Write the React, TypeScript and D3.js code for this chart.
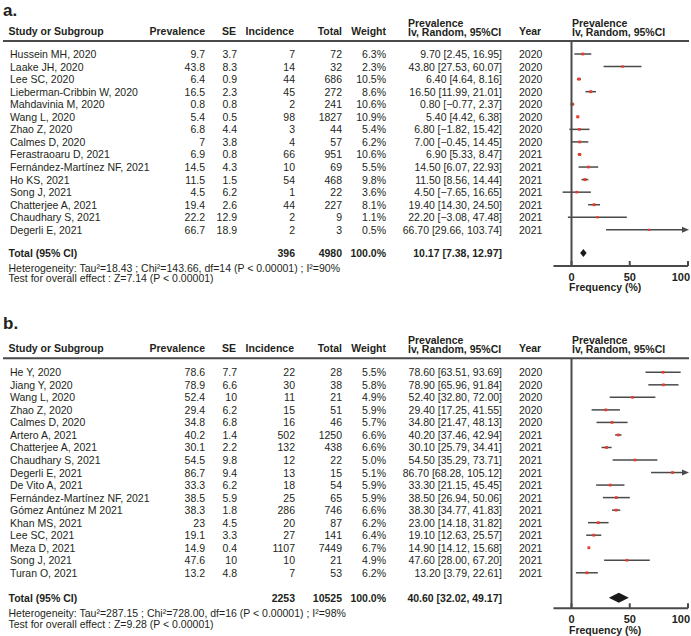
import React from "react";
import * as d3 from "d3";

// ---------- Panel a data ----------
const studiesA = [
  "Hussein MH, 2020", "Laake JH, 2020", "Lee SC, 2020", "Lieberman-Cribbin W, 2020",
  "Mahdavinia M, 2020", "Wang L, 2020", "Zhao Z, 2020", "Calmes D, 2020",
  "Ferastraoaru D, 2021", "Fernández-Martínez NF, 2021", "Ho KS, 2021", "Song J, 2021",
  "Chatterjee A, 2021", "Chaudhary S, 2021", "Degerli E, 2021",
];
const prevA = [9.7, 43.8, 6.4, 16.5, 0.8, 5.4, 6.8, 7, 6.9, 14.5, 11.5, 4.5, 19.4, 22.2, 66.7];
const seA = [3.7, 8.3, 0.9, 2.3, 0.8, 0.5, 4.4, 3.8, 0.8, 4.3, 1.5, 6.2, 2.6, 12.9, 18.9];
const incA = [7, 14, 44, 45, 2, 98, 3, 4, 66, 10, 54, 1, 44, 2, 2];
const totA = [72, 32, 686, 272, 241, 1827, 44, 57, 951, 69, 468, 22, 227, 9, 3];
const weightA = [6.3, 2.3, 10.5, 8.6, 10.6, 10.9, 5.4, 6.2, 10.6, 5.5, 9.8, 3.6, 8.1, 1.1, 0.5];
const loA = [2.45, 27.53, 4.64, 11.99, -0.77, 4.42, -1.82, -0.45, 5.33, 6.07, 8.56, -7.65, 14.3, -3.08, 29.66];
const hiA = [16.95, 60.07, 8.16, 21.01, 2.37, 6.38, 15.42, 14.45, 8.47, 22.93, 14.44, 16.65, 24.5, 47.48, 103.74];
const yearA = [2020, 2020, 2020, 2020, 2020, 2020, 2020, 2020, 2021, 2021, 2021, 2021, 2021, 2021, 2021];
const totalA = { inc: 396, tot: 4980, est: 10.17, lo: 7.38, hi: 12.97 };
const hetA = "Heterogeneity: Tau²=18.43 ; Chi²=143.66, df=14 (P < 0.00001) ; I²=90%";
const testA = "Test for overall effect : Z=7.14 (P < 0.00001)";

// ---------- Panel b data ----------
const studiesB = [
  "He Y, 2020", "Jiang Y, 2020", "Wang L, 2020", "Zhao Z, 2020", "Calmes D, 2020",
  "Artero A, 2021", "Chatterjee A, 2021", "Chaudhary S, 2021", "Degerli E, 2021",
  "De Vito A, 2021", "Fernández-Martínez NF, 2021", "Gómez Antúnez M 2021", "Khan MS, 2021",
  "Lee SC, 2021", "Meza D, 2021", "Song J, 2021", "Turan O, 2021",
];
const prevB = [78.6, 78.9, 52.4, 29.4, 34.8, 40.2, 30.1, 54.5, 86.7, 33.3, 38.5, 38.3, 23, 19.1, 14.9, 47.6, 13.2];
const seB = [7.7, 6.6, 10, 6.2, 6.8, 1.4, 2.2, 9.8, 9.4, 6.2, 5.9, 1.8, 4.5, 3.3, 0.4, 10, 4.8];
const incB = [22, 30, 11, 15, 16, 502, 132, 12, 13, 18, 25, 286, 20, 27, 1107, 10, 7];
const totB = [28, 38, 21, 51, 46, 1250, 438, 22, 15, 54, 65, 746, 87, 141, 7449, 21, 53];
const weightB = [5.5, 5.8, 4.9, 5.9, 5.7, 6.6, 6.6, 5.0, 5.1, 5.9, 5.9, 6.6, 6.2, 6.4, 6.7, 4.9, 6.2];
const loB = [63.51, 65.96, 32.8, 17.25, 21.47, 37.46, 25.79, 35.29, 68.28, 21.15, 26.94, 34.77, 14.18, 12.63, 14.12, 28.0, 3.79];
const hiB = [93.69, 91.84, 72.0, 41.55, 48.13, 42.94, 34.41, 73.71, 105.12, 45.45, 50.06, 41.83, 31.82, 25.57, 15.68, 67.2, 22.61];
const yearB = [2020, 2020, 2020, 2020, 2020, 2021, 2021, 2021, 2021, 2021, 2021, 2021, 2021, 2021, 2021, 2021, 2021];
const totalB = { inc: 2253, tot: 10525, est: 40.6, lo: 32.02, hi: 49.17 };
const hetB = "Heterogeneity: Tau²=287.15 ; Chi²=728.00, df=16 (P < 0.00001) ; I²=98%";
const testB = "Test for overall effect : Z=9.28 (P < 0.00001)";

const xTicks = [0, 50, 100];

const FONT = "'Liberation Sans', Arial, Helvetica, sans-serif";
const TXT = "#231f20";
const LINE = "#4a4a4a";
const RED = "#ec3b2a";

type PanelProps = {
  label: string;
  labelY: number;
  headerLineY: number;
  rowY0: number;
  pitch: number;
  totalY: number;
  hetY: number;
  testY: number;
  axisY: number;
  tickLabelY: number;
  freqY: number;
  diamondH: number;
  studies: string[];
  prev: number[];
  se: number[];
  inc: number[];
  tot: number[];
  weight: number[];
  lo: number[];
  hi: number[];
  year: number[];
  total: { inc: number; tot: number; est: number; lo: number; hi: number };
  het: string;
  test: string;
};

const x = d3.scaleLinear().domain([0, 100]).range([571.5, 688]);
const fmt2 = d3.format(".2f");

function ciText(e: number, l: number, h: number) {
  return `${fmt2(e)} [${fmt2(l)}, ${fmt2(h)}]`;
}

function Panel(p: PanelProps) {
  const fs = 10.5;
  const H = p.headerLineY;
  const cols = {
    study: 10,
    prev: 205,
    se: 237,
    inc: 295,
    tot: 342,
    weight: 386,
    ci: 502,
    year: 519,
    plot: 572,
  };
  const rowY = (i: number) => p.rowY0 + i * p.pitch;
  const tx = (props: any, s: string | number, bold = false) => (
    <text
      {...props}
      fontFamily={FONT}
      fontSize={fs}
      fontWeight={bold ? "bold" : "normal"}
      fill={TXT}
      dominantBaseline="central"
    >
      {s}
    </text>
  );
  const xMax = x(100);
  return (
    <g>
      <text x={3} y={p.labelY} fontFamily={FONT} fontSize={17} fontWeight="bold" fill={TXT} dominantBaseline="central">
        {p.label}
      </text>
      {/* headers */}
      {tx({ x: 8.5, y: H - 10 }, "Study or Subgroup", true)}
      {tx({ x: cols.prev, y: H - 10, textAnchor: "end" }, "Prevalence", true)}
      {tx({ x: cols.se - 1, y: H - 10, textAnchor: "end" }, "SE", true)}
      {tx({ x: cols.inc - 1, y: H - 10, textAnchor: "end" }, "Incidence", true)}
      {tx({ x: cols.tot, y: H - 10, textAnchor: "end" }, "Total", true)}
      {tx({ x: cols.weight, y: H - 10, textAnchor: "end" }, "Weight", true)}
      {tx({ x: 408, y: H - 18.5 }, "Prevalence", true)}
      {tx({ x: 408, y: H - 9.3 }, "Iv, Random, 95%CI", true)}
      {tx({ x: cols.year, y: H - 10 }, "Year", true)}
      {tx({ x: cols.plot, y: H - 18.5 }, "Prevalence", true)}
      {tx({ x: cols.plot, y: H - 9.3 }, "Iv, Random, 95%CI", true)}
      <line x1={3} x2={689} y1={H} y2={H} stroke={LINE} strokeWidth={2} />

      {/* rows */}
      {p.studies.map((s, i) => {
        const y = rowY(i);
        const l = p.lo[i];
        const h = p.hi[i];
        const clipped = h > 100;
        const x2 = clipped ? xMax - 5 : x(h);
        const sz = 2 + Math.sqrt(p.weight[i]) * 0.3;
        return (
          <g key={s + i}>
            {tx({ x: cols.study, y }, s)}
            {tx({ x: cols.prev, y, textAnchor: "end" }, p.prev[i])}
            {tx({ x: cols.se, y, textAnchor: "end" }, p.se[i])}
            {tx({ x: cols.inc, y, textAnchor: "end" }, p.inc[i])}
            {tx({ x: cols.tot, y, textAnchor: "end" }, p.tot[i])}
            {tx({ x: cols.weight, y, textAnchor: "end" }, `${p.weight[i].toFixed(1)}%`)}
            {tx({ x: cols.ci, y, textAnchor: "end" }, ciText(p.prev[i], l, h))}
            {tx({ x: cols.year, y }, p.year[i])}
            <line x1={x(l)} x2={x2} y1={y} y2={y} stroke={LINE} strokeWidth={1.5} />
            {clipped && (
              <path
                d={`M${xMax + 1},${y} L${xMax - 6},${y - 3} L${xMax - 6},${y + 3} Z`}
                fill={LINE}
              />
            )}
            <rect x={x(p.prev[i]) - sz / 2} y={y - sz / 2} width={sz} height={sz} fill={RED} />
          </g>
        );
      })}

      {/* total */}
      {tx({ x: 8.5, y: p.totalY }, "Total (95% CI)", true)}
      {tx({ x: cols.inc, y: p.totalY, textAnchor: "end" }, p.total.inc, true)}
      {tx({ x: cols.tot, y: p.totalY, textAnchor: "end" }, p.total.tot, true)}
      {tx({ x: cols.weight, y: p.totalY, textAnchor: "end" }, "100.0%", true)}
      {tx({ x: cols.ci, y: p.totalY, textAnchor: "end" }, ciText(p.total.est, p.total.lo, p.total.hi), true)}
      <path
        d={`M${x(p.total.lo)},${p.totalY} L${x(p.total.est)},${p.totalY - p.diamondH / 2} L${x(p.total.hi)},${p.totalY} L${x(p.total.est)},${p.totalY + p.diamondH / 2} Z`}
        fill="#1a1a1a"
      />
      {tx({ x: 8.5, y: p.hetY }, p.het)}
      {tx({ x: 8.5, y: p.testY }, p.test)}

      {/* axes */}
      <line x1={x(0)} x2={x(0)} y1={H} y2={p.axisY} stroke={LINE} strokeWidth={2} />
      <line x1={x(-15.5)} x2={x(100)} y1={p.axisY} y2={p.axisY} stroke={LINE} strokeWidth={2} />
      {xTicks.map((t, i) => {
        const last = i === xTicks.length - 1;
        return (
          <g key={t}>
            <line x1={x(t)} x2={x(t)} y1={p.axisY} y2={p.axisY - 5} stroke={LINE} strokeWidth={2} />
            <text
              x={last ? 690 : x(t)}
              y={p.tickLabelY}
              textAnchor={last ? "end" : "middle"}
              fontFamily={FONT}
              fontSize={11}
              fontWeight="bold"
              fill={TXT}
              dominantBaseline="central"
            >
              {t}
            </text>
          </g>
        );
      })}
      <text
        x={569}
        y={p.freqY}
        fontFamily={FONT}
        fontSize={10.5}
        fontWeight="bold"
        fill={TXT}
        dominantBaseline="central"
      >
        Frequency (%)
      </text>
    </g>
  );
}

export default function App() {
  return (
    <svg
      width={691}
      height={636}
      style={{ position: "absolute", left: 0, top: 0, background: "#fff" }}
    >
      <rect width={691} height={636} fill="#fff" />
      <Panel
        label="a."
        labelY={10}
        headerLineY={41}
        rowY0={54}
        pitch={12.56}
        totalY={253}
        hetY={268}
        testY={277.7}
        axisY={266}
        tickLabelY={276.5}
        freqY={287}
        diamondH={8}
        studies={studiesA}
        prev={prevA}
        se={seA}
        inc={incA}
        tot={totA}
        weight={weightA}
        lo={loA}
        hi={hiA}
        year={yearA}
        total={totalA}
        het={hetA}
        test={testA}
      />
      <Panel
        label="b."
        labelY={323}
        headerLineY={358.3}
        rowY0={372.3}
        pitch={12.53}
        totalY={597.7}
        hetY={612.7}
        testY={624}
        axisY={608.3}
        tickLabelY={619}
        freqY={630}
        diamondH={10}
        studies={studiesB}
        prev={prevB}
        se={seB}
        inc={incB}
        tot={totB}
        weight={weightB}
        lo={loB}
        hi={hiB}
        year={yearB}
        total={totalB}
        het={hetB}
        test={testB}
      />
    </svg>
  );
}
